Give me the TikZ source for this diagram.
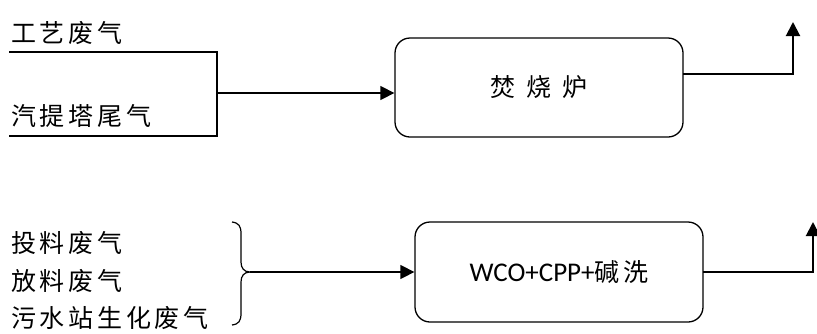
\documentclass[tikz,border=0pt]{standalone}
\usepackage{fontspec}
\newfontfamily\cjk{Noto Sans CJK SC}[LetterSpace=15]
\newfontfamily\latinf{Carlito}
\usetikzlibrary{arrows.meta}
\tikzset{
  lbl/.style={anchor=west,inner sep=0pt,font=\cjk\fontsize{25}{29}\selectfont},
  procbox/.style={draw,line width=1.3pt,rounded corners=15pt,minimum width=288pt,minimum height=99pt,inner sep=0pt},
  thickline/.style={line width=2.8pt},
  thinline/.style={line width=1.4pt},
  arr/.style={-{Triangle[length=14pt,width=14pt]}},
}
\begin{document}
\begin{tikzpicture}[x=1pt,y=-1pt]
\useasboundingbox (0,0) rectangle (817,333);
% top group
\node[lbl] (t1) at (11,33) {工艺废气};
\node[lbl] (t2) at (11,116) {汽提塔尾气};
\node[procbox] (b1) at (539,87.5) {\cjk\fontsize{25}{29}\selectfont 焚\hspace{11pt}烧\hspace{11pt}炉};
\coordinate (a1) at (9,52);
\coordinate (a2) at (217,52);
\coordinate (a3) at (217,136);
\coordinate (a4) at (9,136);
\coordinate (j1) at (217,93);
\draw[thickline] (a1) -- (a2) -- (a3) -- (a4);
\draw[thinline,arr] (j1) -- (j1 -| b1.west);
\coordinate (o1) at (683,74);
\coordinate (u1) at (793,74);
\coordinate (e1) at (793,22);
\draw[thickline] (o1) -- ([xshift=1pt]u1);
\draw[line width=2pt,arr] (u1) -- (e1);
% bottom group
\node[lbl] (s1) at (11,243) {投料废气};
\node[lbl] (s2) at (11,281) {放料废气};
\node[lbl] (s3) at (11,318) {污水站生化废气};
\node[procbox,minimum height=100pt] (b2) at (559,272) {\latinf\fontsize{27}{30}\selectfont WCO+CPP+{\cjk\fontsize{25}{29}\selectfont 碱洗}};
\coordinate (k0) at (250,272);
\draw[line width=1.2pt] (232,222) .. controls (239,223) and (241,226) .. (241,234)
  -- (241,262) .. controls (241,268) and (244,272) .. (k0)
  .. controls (244,272) and (241,276) .. (241,282)
  -- (241,313) .. controls (241,321) and (239,324) .. (232,325);
\draw[thinline,arr] (k0) -- (k0 -| b2.west);
\coordinate (o2) at (703,272);
\coordinate (u2) at (813,272);
\coordinate (e2) at (813,222);
\draw[thickline] (o2) -- ([xshift=1pt]u2);
\draw[line width=2pt,arr] (u2) -- (e2);
\end{tikzpicture}
\end{document}
